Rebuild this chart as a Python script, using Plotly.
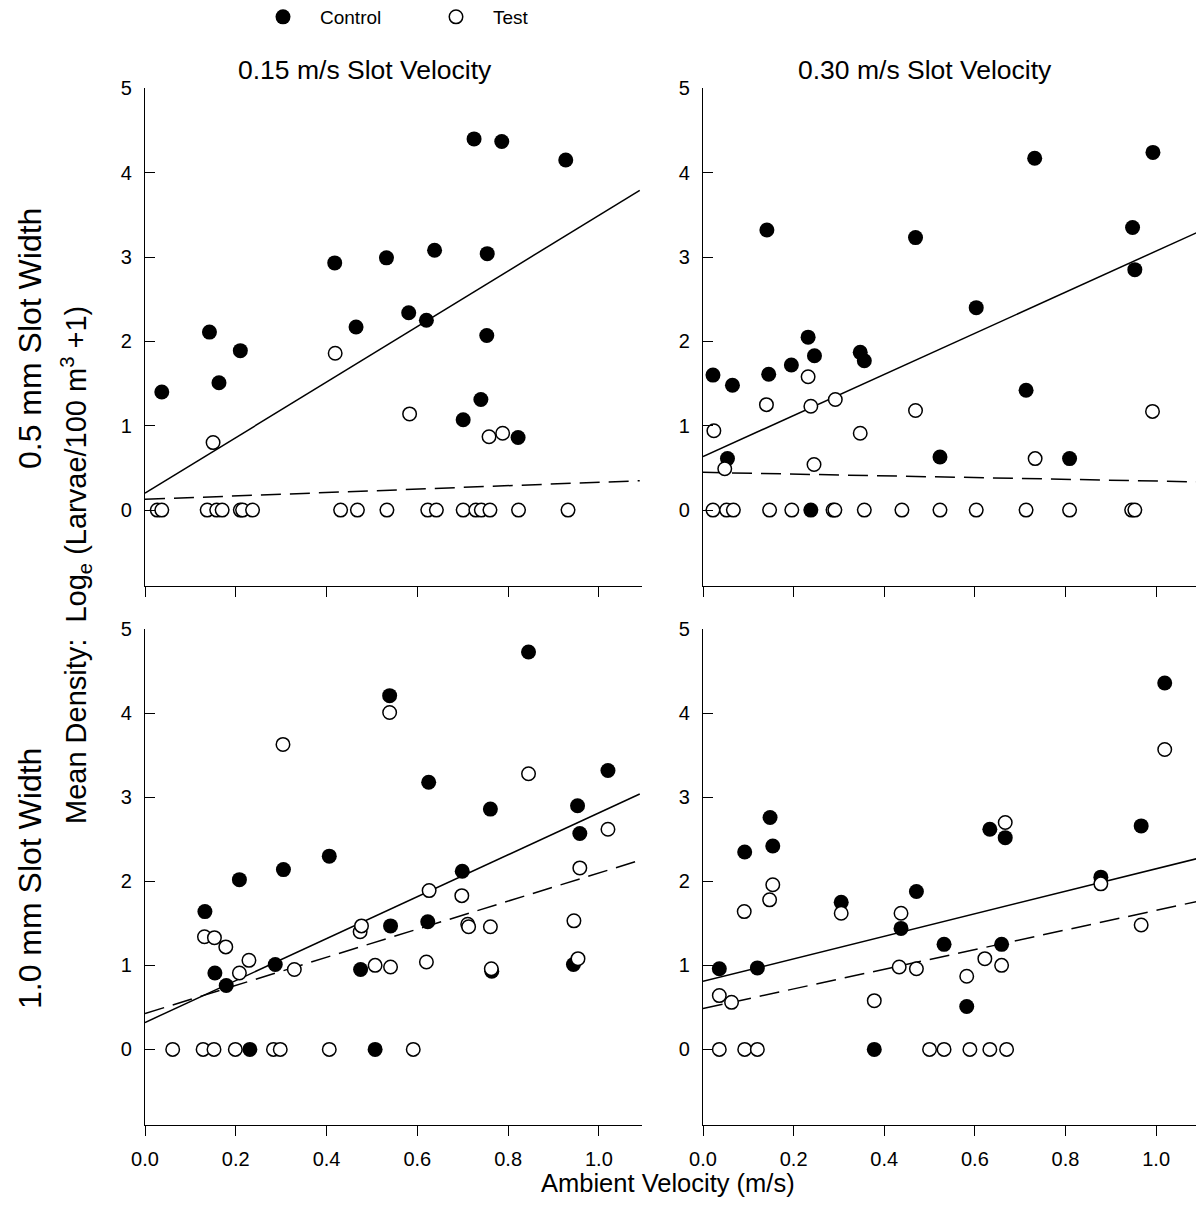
import plotly.graph_objects as go

W, H = 1196, 1226

# ---------------- data ----------------
# Top-left: 0.5 mm slot width, 0.15 m/s slot velocity
TL_CTRL_X = [0.037, 0.142, 0.163, 0.210, 0.418, 0.465, 0.532, 0.581, 0.620, 0.638,
             0.701, 0.725, 0.740, 0.753, 0.754, 0.786, 0.822, 0.927]
TL_CTRL_Y = [1.40, 2.11, 1.51, 1.89, 2.93, 2.17, 2.99, 2.34, 2.25, 3.08,
             1.07, 4.40, 1.31, 2.07, 3.04, 4.37, 0.86, 4.15]
TL_TEST_X = [0.150, 0.419, 0.583, 0.758, 0.788,
             0.027, 0.037, 0.137, 0.158, 0.170, 0.210, 0.215, 0.237, 0.431, 0.468,
             0.533, 0.623, 0.642, 0.701, 0.729, 0.741, 0.760, 0.823, 0.932]
TL_TEST_Y = [0.80, 1.86, 1.14, 0.87, 0.91,
             0, 0, 0, 0, 0, 0, 0, 0, 0, 0,
             0, 0, 0, 0, 0, 0, 0, 0, 0]

# Top-right: 0.5 mm slot width, 0.30 m/s slot velocity
TR_CTRL_X = [0.022, 0.054, 0.065, 0.141, 0.145, 0.195, 0.232, 0.238, 0.246, 0.347,
             0.356, 0.469, 0.523, 0.603, 0.713, 0.732, 0.809, 0.948, 0.953, 0.993]
TR_CTRL_Y = [1.60, 0.61, 1.48, 3.32, 1.61, 1.72, 2.05, 0.00, 1.83, 1.87,
             1.77, 3.23, 0.63, 2.40, 1.42, 4.17, 0.61, 3.35, 2.85, 4.24]
TR_TEST_X = [0.024, 0.048, 0.140, 0.232, 0.238, 0.245, 0.292, 0.347, 0.469, 0.733, 0.992,
             0.022, 0.052, 0.067, 0.147, 0.196, 0.287, 0.291, 0.356, 0.439, 0.523,
             0.603, 0.713, 0.809, 0.946, 0.953]
TR_TEST_Y = [0.94, 0.49, 1.25, 1.58, 1.23, 0.54, 1.31, 0.91, 1.18, 0.61, 1.17,
             0, 0, 0, 0, 0, 0, 0, 0, 0, 0,
             0, 0, 0, 0, 0]

# Bottom-left: 1.0 mm slot width, 0.15 m/s slot velocity
BL_CTRL_X = [0.132, 0.154, 0.179, 0.208, 0.231, 0.287, 0.305, 0.406, 0.475, 0.507, 0.539,
             0.541, 0.623, 0.625, 0.699, 0.761, 0.764, 0.845, 0.944, 0.953, 0.958, 1.020]
BL_CTRL_Y = [1.64, 0.91, 0.76, 2.02, 0.00, 1.01, 2.14, 2.30, 0.95, 0.00, 4.21,
             1.47, 1.52, 3.18, 2.12, 2.86, 0.93, 4.73, 1.01, 2.90, 2.57, 3.32]
BL_TEST_X = [0.131, 0.153, 0.178, 0.208, 0.229, 0.304, 0.329, 0.474, 0.477, 0.507, 0.539,
             0.541, 0.620, 0.626, 0.698, 0.711, 0.713, 0.761, 0.763, 0.845, 0.945, 0.954,
             0.958, 1.020,
             0.061, 0.128, 0.152, 0.199, 0.283, 0.298, 0.406, 0.591]
BL_TEST_Y = [1.34, 1.33, 1.22, 0.91, 1.06, 3.63, 0.95, 1.40, 1.47, 1.00, 4.01,
             0.98, 1.04, 1.89, 1.83, 1.49, 1.46, 1.46, 0.96, 3.28, 1.53, 1.08,
             2.16, 2.62,
             0, 0, 0, 0, 0, 0, 0, 0]

# Bottom-right: 1.0 mm slot width, 0.30 m/s slot velocity
BR_CTRL_X = [0.036, 0.092, 0.120, 0.148, 0.154, 0.305, 0.378, 0.437, 0.471, 0.532,
             0.582, 0.633, 0.659, 0.667, 0.878, 0.967, 1.019]
BR_CTRL_Y = [0.96, 2.35, 0.97, 2.76, 2.42, 1.75, 0.00, 1.44, 1.88, 1.25,
             0.51, 2.62, 1.25, 2.52, 2.05, 2.66, 4.36]
BR_TEST_X = [0.036, 0.063, 0.091, 0.147, 0.154, 0.305, 0.378, 0.433, 0.437, 0.471,
             0.582, 0.622, 0.659, 0.667, 0.878, 0.967, 1.019,
             0.036, 0.092, 0.120, 0.500, 0.532, 0.589, 0.633, 0.670]
BR_TEST_Y = [0.64, 0.56, 1.64, 1.78, 1.96, 1.62, 0.58, 0.98, 1.62, 0.96,
             0.87, 1.08, 1.00, 2.70, 1.97, 1.48, 3.57,
             0, 0, 0, 0, 0, 0, 0, 0]

# Regression lines (end points at x = 0 and x = 1.09)
FIT_X = [0.0, 1.09]
TL_CTRL_FIT = [0.20, 3.79]
TL_TEST_FIT = [0.127, 0.348]
TR_CTRL_FIT = [0.634, 3.29]
TR_TEST_FIT = [0.447, 0.335]
BL_CTRL_FIT = [0.32, 3.04]
BL_TEST_FIT = [0.427, 2.25]
BR_CTRL_FIT = [0.81, 2.27]
BR_TEST_FIT = [0.486, 1.76]

COL_TITLES = ["0.15 m/s Slot Velocity", "0.30 m/s Slot Velocity"]
ROW_TITLES = ["0.5 mm Slot Width", "1.0 mm Slot Width"]
Y_TITLE = "Mean Density:&nbsp; Log<sub>e</sub> (Larvae/100 m<sup>3</sup> +1)"
X_TITLE = "Ambient Velocity (m/s)"
Y_TICKS = [0, 1, 2, 3, 4, 5]
X_TICKS = [0.0, 0.2, 0.4, 0.6, 0.8, 1.0]
X_TICK_TEXT = ["0.0", "0.2", "0.4", "0.6", "0.8", "1.0"]

FONT = "Liberation Sans, Arial, sans-serif"

panels = [
    ("x", "y", TL_CTRL_X, TL_CTRL_Y, TL_TEST_X, TL_TEST_Y, TL_CTRL_FIT, TL_TEST_FIT),
    ("x2", "y2", TR_CTRL_X, TR_CTRL_Y, TR_TEST_X, TR_TEST_Y, TR_CTRL_FIT, TR_TEST_FIT),
    ("x3", "y3", BL_CTRL_X, BL_CTRL_Y, BL_TEST_X, BL_TEST_Y, BL_CTRL_FIT, BL_TEST_FIT),
    ("x4", "y4", BR_CTRL_X, BR_CTRL_Y, BR_TEST_X, BR_TEST_Y, BR_CTRL_FIT, BR_TEST_FIT),
]

fig = go.Figure()
for i, (xa, ya, cx, cy, tx, ty, cfit, tfit) in enumerate(panels):
    fig.add_trace(go.Scatter(x=FIT_X, y=cfit, mode="lines", xaxis=xa, yaxis=ya,
                             line=dict(color="black", width=1.5), showlegend=False,
                             hoverinfo="skip"))
    fig.add_trace(go.Scatter(x=FIT_X, y=tfit, mode="lines", xaxis=xa, yaxis=ya,
                             line=dict(color="black", width=1.5, dash="20px,9px"),
                             showlegend=False, hoverinfo="skip"))
for i, (xa, ya, cx, cy, tx, ty, cfit, tfit) in enumerate(panels):
    fig.add_trace(go.Scatter(x=cx, y=cy, mode="markers", xaxis=xa, yaxis=ya,
                             name="Control", legendgroup="c", showlegend=(i == 0),
                             marker=dict(symbol="circle", size=15, color="black",
                                         line=dict(width=0))))
    fig.add_trace(go.Scatter(x=tx, y=ty, mode="markers", xaxis=xa, yaxis=ya,
                             name="Test", legendgroup="t", showlegend=(i == 0),
                             marker=dict(symbol="circle", size=13.5, color="white",
                                         line=dict(width=1.5, color="black"))))

def px_x(p):
    return p / W

def px_y(p):
    return 1 - p / H

xdom_left = [px_x(145), px_x(642)]
xdom_right = [px_x(703), 1.0]
ydom_top = [px_y(586), px_y(88.3)]
ydom_bot = [px_y(1125), px_y(629.3)]

axis_common = dict(showgrid=False, zeroline=False, showline=True, linecolor="black",
                   linewidth=1.2, tickcolor="black", tickwidth=1.2, automargin=False,
                   tickfont=dict(family=FONT, size=20, color="black"))

def xax(dom, rng, anchor, labels):
    d = dict(axis_common)
    d.update(domain=dom, range=rng, anchor=anchor, tickmode="array", tickvals=X_TICKS,
             ticktext=X_TICK_TEXT, ticks="outside", ticklen=10, showticklabels=labels,
             ticklabelstandoff=6)
    return d

def yax(dom, anchor):
    d = dict(axis_common)
    d.update(domain=dom, range=[-0.9, 5], anchor=anchor, tickmode="array",
             tickvals=Y_TICKS, ticks="inside", ticklen=10, ticklabelstandoff=8)
    return d

fig.update_layout(
    width=W, height=H, autosize=False,
    margin=dict(l=0, r=0, t=0, b=0, pad=0, autoexpand=False),
    paper_bgcolor="white", plot_bgcolor="white",
    font=dict(family=FONT, color="black"),
    xaxis=xax(xdom_left, [0, 1.095], "y", False),
    yaxis=yax(ydom_top, "x"),
    xaxis2=xax(xdom_right, [0, 1.088], "y2", False),
    yaxis2=yax(ydom_top, "x2"),
    xaxis3=xax(xdom_left, [0, 1.095], "y3", True),
    yaxis3=yax(ydom_bot, "x3"),
    xaxis4=xax(xdom_right, [0, 1.088], "y4", True),
    yaxis4=yax(ydom_bot, "x4"),
    showlegend=True,
    legend=dict(orientation="h", x=px_x(246), y=px_y(17), xanchor="left",
                yanchor="middle", font=dict(family=FONT, size=19, color="black"),
                itemwidth=64, entrywidth=94, bgcolor="rgba(0,0,0,0)",
                tracegroupgap=0),
)

def note(text, x, y, size, angle=0):
    return dict(text=text, x=px_x(x), y=px_y(y), xref="paper", yref="paper",
                xanchor="center", yanchor="middle", showarrow=False, textangle=angle,
                font=dict(family=FONT, size=size, color="black"))

ann = [
    note(COL_TITLES[0], 365, 70, 26.5),
    note(COL_TITLES[1], 925, 70, 26.5),
    note(ROW_TITLES[0], 30, 339, 32, -90),
    note(ROW_TITLES[1], 30, 879, 32, -90),
    note(Y_TITLE, 76, 565, 29, -90),
    note(X_TITLE, 668, 1183, 25.5),
]
fig.update_layout(annotations=ann)

fig.write_html("out.html",
               post_script="document.body.style.margin='0px';"
                           "document.body.style.padding='0px';")
